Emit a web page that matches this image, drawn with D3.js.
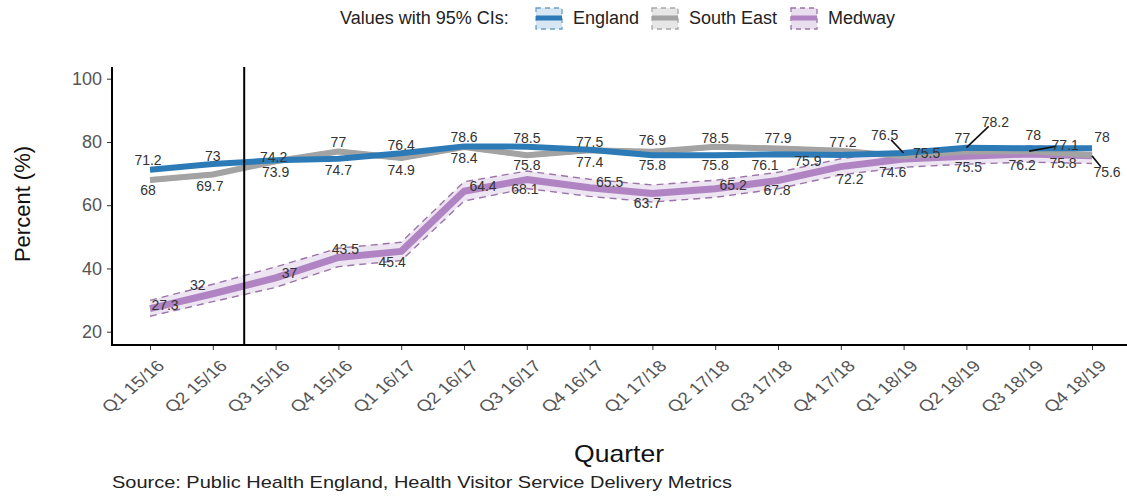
<!DOCTYPE html>
<html>
<head>
<meta charset="utf-8">
<script src="https://cdn.jsdelivr.net/npm/d3@7"></script>
<style>
  body { margin: 0; background: #fff; }
  svg { display: block; font-family: "Liberation Sans", Arial, sans-serif; }
</style>
</head>
<body>
<div id="root"></div>
<script>
"use strict";

// quarters on the x axis
var quarters = ["Q1 15/16", "Q2 15/16", "Q3 15/16", "Q4 15/16",
    "Q1 16/17", "Q2 16/17", "Q3 16/17", "Q4 16/17",
    "Q1 17/18", "Q2 17/18", "Q3 17/18", "Q4 17/18",
    "Q1 18/19", "Q2 18/19", "Q3 18/19", "Q4 18/19"];

var england = [71.2, 73, 74.2, 74.7, 76.4, 78.6, 78.5, 77.5, 75.8, 75.8, 76.1, 75.9, 76.5, 78.2, 78, 78];
var englandLower = [71.0, 72.8, 74.0, 74.5, 76.2, 78.4, 78.3, 77.3, 75.6, 75.6, 75.9, 75.7, 76.3, 78.0, 77.8, 77.8];
var englandUpper = [71.4, 73.2, 74.4, 74.9, 76.6, 78.8, 78.7, 77.7, 76.0, 76.0, 76.3, 76.1, 76.7, 78.4, 78.2, 78.2];

var southEast = [68, 69.7, 73.9, 77, 74.9, 78.4, 75.8, 77.4, 76.9, 78.5, 77.9, 77.2, 75.5, 77, 77.1, 75.8];
var southEastLower = [67.4, 69.1, 73.3, 76.4, 74.3, 77.8, 75.2, 76.8, 76.3, 77.9, 77.3, 76.6, 74.9, 76.4, 76.5, 75.2];
var southEastUpper = [68.6, 70.3, 74.5, 77.6, 75.5, 79.0, 76.4, 78.0, 77.5, 79.1, 78.5, 77.8, 76.1, 77.6, 77.7, 76.4];

var medway = [27.3, 32, 37, 43.5, 45.4, 64.4, 68.1, 65.5, 63.7, 65.2, 67.8, 72.2, 74.6, 75.5, 76.2, 75.6];
var medwayLower = [24.9, 29.5, 34.0, 40.6, 42.5, 61.3, 65.3, 62.8, 61.0, 62.5, 65.2, 69.6, 72.0, 73.0, 73.6, 73.2];
var medwayUpper = [29.9, 35.0, 40.5, 46.4, 48.3, 67.4, 70.8, 68.2, 66.4, 67.9, 70.4, 74.7, 77.2, 78.0, 78.7, 78.3];

var yTicks = [20, 40, 60, 80, 100];

// where the repelled value labels sit, in px from their point
var englandNudge = [[-2, -10], [0, -8], [-2, -3], [0, 11], [0, -8], [0, -9], [0, -9], [0, -8],
    [0, 10], [0, 10], [-13, 11], [-33, 6], [-19, -18], [29, -26], [4, -13], [10, -11]];
var southEastNudge = [[-2, 10], [-3, 12], [0, 11], [0, -9], [0, 12], [0, 11], [0, 10], [0, 12],
    [0, -12], [0, -9], [0, -10], [2, -9], [23, -3], [-4, -13], [36, -6], [-29, 8]];
var medwayNudge = [[15, -4], [-15, -9], [14, -5], [7, -8], [-9, 11], [19, -5], [-2, 10], [20, -6],
    [-5, 10], [18, -4], [-1, 10], [9, 12], [-11, 13], [2, 11], [-7, 11], [15, 16]];
// labels that get a leader segment back to their point
var englandLeaders = [12, 13];
var southEastLeaders = [14];
var medwayLeaders = [15];

var series = [
    { name: "Medway", values: medway, lower: medwayLower, upper: medwayUpper,
      nudge: medwayNudge, leaders: medwayLeaders,
      line: "#b083c2", width: 7, fill: "#e9deed", dash: "#9a74a8" },
    { name: "South East", values: southEast, lower: southEastLower, upper: southEastUpper,
      nudge: southEastNudge, leaders: southEastLeaders,
      line: "#a3a3a3", width: 6, fill: "#e6e6e6", dash: "#a8a8a8" },
    { name: "England", values: england, lower: englandLower, upper: englandUpper,
      nudge: englandNudge, leaders: englandLeaders,
      line: "#2d7bb6", width: 6, fill: "#d6e6f2", dash: "#6a9fca" }
];
var legendOrder = ["England", "South East", "Medway"];

var width = 1127, height = 496;

var svg = d3.select("#root").append("svg")
    .attr("width", width)
    .attr("height", height);

var x = d3.scalePoint()
    .domain(quarters)
    .range([150, 1092]);

var y = d3.scaleLinear()
    .domain([15.8, 103.7])
    .range([345, 67]);

var panelLeft = 112, panelRight = 1130;

// y axis
var yAxis = svg.append("g")
    .attr("transform", "translate(" + panelLeft + ",0)")
    .call(d3.axisLeft(y).tickValues(yTicks).tickSize(5).tickPadding(5).tickSizeOuter(0));
yAxis.select(".domain").remove();
yAxis.selectAll(".tick line").attr("stroke", "#333");
yAxis.selectAll(".tick text")
    .attr("fill", "#555")
    .style("font-size", "18px")
    .style("font-family", "Liberation Sans, Arial, sans-serif");

// x axis (labels slightly widened, like the source image)
var xAxis = svg.append("g")
    .attr("transform", "translate(0," + y.range()[0] + ")")
    .call(d3.axisBottom(x).tickSize(5).tickSizeOuter(0));
xAxis.select(".domain").remove();
xAxis.selectAll(".tick line").attr("stroke", "#333");
xAxis.selectAll(".tick text")
    .attr("fill", "#555")
    .attr("text-anchor", "end")
    .attr("dy", null)
    .attr("y", null)
    .attr("transform", "translate(15,22) scale(1.2,1) rotate(-45)")
    .style("font-size", "16px")
    .style("font-family", "Liberation Sans, Arial, sans-serif");

// axis lines
svg.append("line")
    .attr("x1", panelLeft).attr("x2", panelLeft)
    .attr("y1", y.range()[1]).attr("y2", y.range()[0] + 1)
    .attr("stroke", "#000").attr("stroke-width", 2);
svg.append("line")
    .attr("x1", panelLeft - 1).attr("x2", panelRight)
    .attr("y1", y.range()[0]).attr("y2", y.range()[0])
    .attr("stroke", "#000").attr("stroke-width", 2);

var plot = svg.append("g");

var idx = d3.range(quarters.length);

// ribbons
series.forEach(function (s) {
    var area = d3.area()
        .x(function (i) { return x(quarters[i]); })
        .y0(function (i) { return y(s.lower[i]); })
        .y1(function (i) { return y(s.upper[i]); });
    plot.append("path")
        .attr("d", area(idx))
        .attr("fill", s.fill)
        .attr("opacity", 0.8);
});

// dashed CI edges
series.forEach(function (s) {
    ["lower", "upper"].forEach(function (k) {
        var l = d3.line()
            .x(function (i) { return x(quarters[i]); })
            .y(function (i) { return y(s[k][i]); });
        plot.append("path")
            .attr("d", l(idx))
            .attr("fill", "none")
            .attr("stroke", s.dash)
            .attr("stroke-width", 1.4)
            .attr("stroke-dasharray", "7,5");
    });
});

// main lines
series.forEach(function (s) {
    var l = d3.line()
        .x(function (i) { return x(quarters[i]); })
        .y(function (i) { return y(s.values[i]); });
    plot.append("path")
        .attr("d", l(idx))
        .attr("fill", "none")
        .attr("stroke", s.line)
        .attr("stroke-width", s.width)
        .attr("stroke-linejoin", "round")
        .attr("stroke-linecap", "butt");
});

// vertical marker between Q2 and Q3 15/16
var step = x.step();
svg.append("line")
    .attr("x1", x(quarters[1]) + step / 2).attr("x2", x(quarters[1]) + step / 2)
    .attr("y1", y.range()[1]).attr("y2", y.range()[0])
    .attr("stroke", "#000").attr("stroke-width", 2);

// value labels
var labels = svg.append("g");
series.forEach(function (s) {
    s.values.forEach(function (v, i) {
        var px = x(quarters[i]), py = y(v);
        var lx = px + s.nudge[i][0], ly = py + s.nudge[i][1];
        if (s.leaders.indexOf(i) >= 0) {
            var dx = px - lx, dy = py - ly, d = Math.sqrt(dx * dx + dy * dy);
            labels.append("line")
                .attr("x1", lx + dx / d * 9).attr("y1", ly + dy / d * 7)
                .attr("x2", px).attr("y2", py)
                .attr("stroke", "#111").attr("stroke-width", 1.6);
        }
        labels.append("text")
            .attr("x", lx).attr("y", ly)
            .attr("dy", "0.35em")
            .attr("text-anchor", "middle")
            .attr("fill", "#333")
            .style("font-size", "14px")
            .text(v);
    });
});

// axis titles
svg.append("text")
    .attr("transform", "translate(30,204) rotate(-90)")
    .attr("text-anchor", "middle")
    .attr("fill", "#111")
    .style("font-size", "22px")
    .text("Percent (%)");

svg.append("text")
    .attr("x", 619).attr("y", 462)
    .attr("text-anchor", "middle")
    .attr("fill", "#111")
    .style("font-size", "24px")
    .attr("textLength", 90)
    .attr("lengthAdjust", "spacingAndGlyphs")
    .text("Quarter");

svg.append("text")
    .attr("x", 112).attr("y", 488)
    .attr("fill", "#222")
    .style("font-size", "17px")
    .attr("textLength", 620)
    .attr("lengthAdjust", "spacingAndGlyphs")
    .text("Source: Public Health England, Health Visitor Service Delivery Metrics");

// legend
var legend = svg.append("g").attr("transform", "translate(0,18)");
legend.append("text")
    .attr("x", 340).attr("y", 0).attr("dy", "0.35em")
    .attr("fill", "#222")
    .style("font-size", "18px")
    .text("Values with 95% CIs:");

var keyX = [535, 651, 790];
legendOrder.forEach(function (name, j) {
    var s = series.filter(function (d) { return d.name === name; })[0];
    var g = legend.append("g").attr("transform", "translate(" + keyX[j] + ",0)");
    g.append("rect")
        .attr("x", 1).attr("y", -10).attr("width", 26).attr("height", 21)
        .attr("fill", s.fill)
        .attr("stroke", s.dash)
        .attr("stroke-width", 1.3)
        .attr("stroke-dasharray", "5,4");
    g.append("line")
        .attr("x1", 1).attr("x2", 27).attr("y1", 0).attr("y2", 0)
        .attr("stroke", s.line).attr("stroke-width", 5);
    g.append("text")
        .attr("x", 38).attr("y", 0).attr("dy", "0.35em")
        .attr("fill", "#222")
        .style("font-size", "18px")
        .text(name);
});
</script>
</body>
</html>
